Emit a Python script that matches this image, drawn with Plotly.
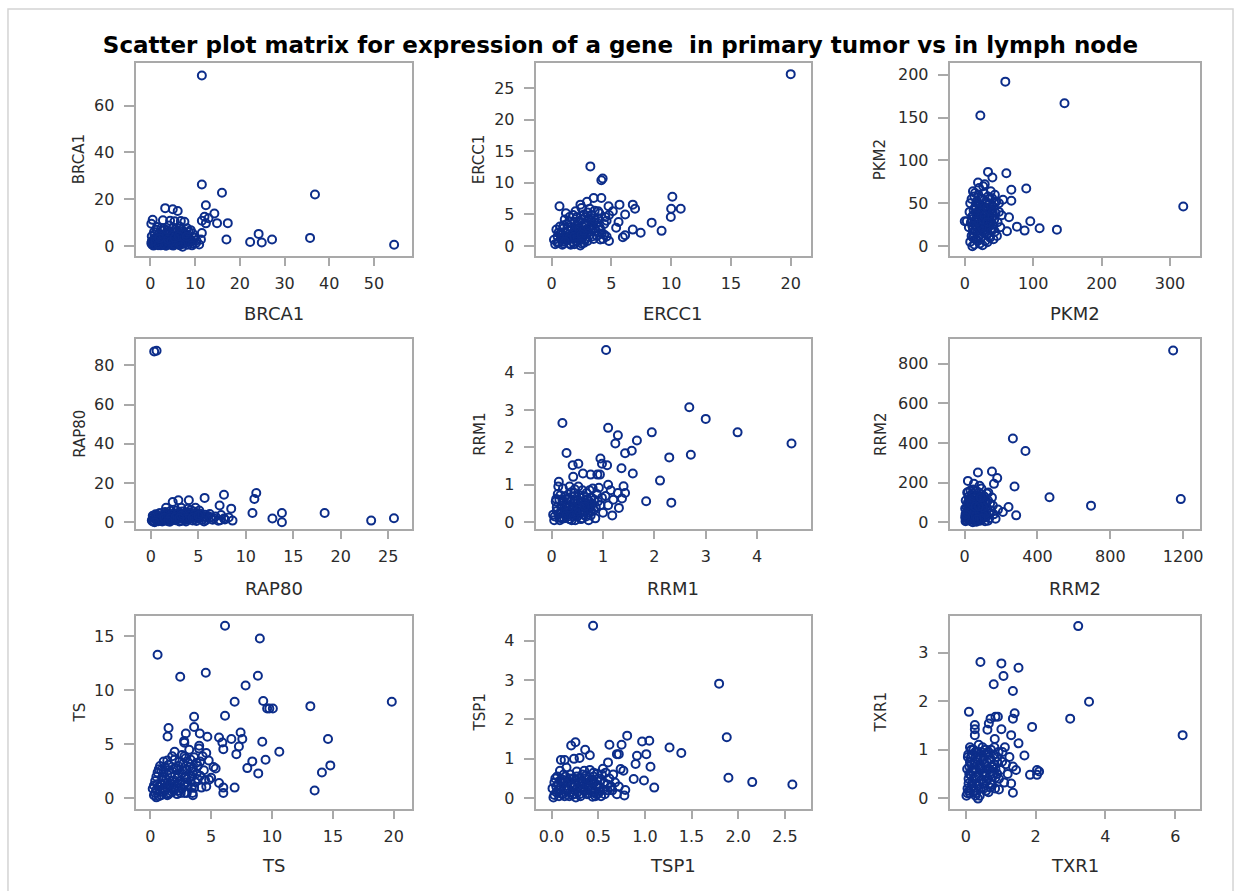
import plotly.graph_objects as go

# ---------------- data: (value in primary tumor, value in lymph node) ----------------
genes = ["BRCA1", "ERCC1", "PKM2", "RAP80", "RRM1", "RRM2", "TS", "TSP1", "TXR1"]

brca1_pts = [(11.5,72.9),(11.5,26.3),(16.0,22.8),(36.8,22.0),(12.4,17.4),(3.3,16.2),(5.0,15.7),(6.1,15.0),
             (14.3,13.9),(12.1,12.5),(13.0,11.9),(11.5,10.8),(12.4,9.7),(14.9,9.8),(17.3,9.8),(11.5,5.6),
             (17.0,2.8),(24.2,5.2),(22.3,1.7),(24.9,1.5),(27.2,2.8),(35.7,3.5),(54.5,0.6),(11.3,2.8),
             (10.9,0.7),(10.2,1.3),
             (0.5,11.2),(2.8,11.0),(4.4,10.8),(5.4,10.6),(6.8,10.7),(7.6,10.4),(0.2,9.5),(1.5,8.2),(3.0,7.5),
             (4.2,8.8),(5.6,7.2),(6.5,8.4),(8.2,7.6),(9.0,6.8),(0.8,6.0),(1.9,5.4),(2.6,6.5),(3.7,4.8),
             (4.9,5.9),(6.1,5.0),(7.2,6.2),(8.5,4.6),(9.4,5.5),(0.3,4.2),(1.2,3.6),(2.2,4.0),(3.1,3.2),
             (4.0,3.9),(5.0,3.0),(5.8,3.8),(6.7,3.3),(7.5,4.1),(8.8,3.0),(9.8,3.6),(0.6,2.5),(1.5,2.0),
             (2.4,2.8),(3.4,1.9),(4.4,2.4),(5.3,1.6),(6.2,2.2),(7.0,1.8),(7.9,2.6),(9.1,1.9),(10.3,2.4),
             (0.2,1.2),(1.0,0.8),(1.9,1.4),(2.9,0.9),(3.8,1.2),(4.7,0.5),(5.6,0.9),(6.5,0.4),(7.4,1.0),
             (8.3,0.6),(9.5,1.1),(0.7,0.2),(2.3,0.3),(3.5,0.1),(5.1,0.2),(7.2,-0.3),(1.4,1.8),(2.7,2.1),
             (4.1,1.5),(6.0,1.3),(8.0,1.6),(0.9,3.1),(3.3,2.6),(5.5,2.7),(7.7,3.0),
             (0.4,0.6),(1.1,1.9),(1.7,0.4),(2.1,2.4),(2.6,1.2),(3.0,3.6),(3.6,0.6),(4.0,2.0),(4.5,3.2),
             (4.9,1.1),(5.2,4.4),(5.7,2.0),(6.0,3.1),(6.4,1.0),(6.9,2.7),(7.3,4.6),(7.8,1.3),(8.4,3.5),
             (8.9,2.2),(9.3,0.3),(0.9,4.8),(1.6,2.9),(2.0,5.0),(2.9,4.4),(3.5,5.5),(4.3,6.1),(4.8,4.3),
             (5.9,6.4),(6.6,5.6),(7.0,7.0),(7.9,5.3),(8.6,6.0),(1.3,7.0),(2.4,7.6),(3.8,6.8),(5.1,7.8),
             (1.8,0.9),(3.2,0.4),(4.6,1.9),(6.8,0.8),(0.3,2.0),(2.0,3.3),(3.9,2.9),(5.4,3.5),(6.3,4.2),
             (8.1,4.0)]

ercc1_pts = [(20.0,27.2),(3.24,12.6),(4.16,10.4),(4.27,10.7),(0.66,6.3),(2.41,6.55),(2.96,7.0),(3.52,7.6),
             (4.16,7.6),(4.76,6.3),(5.68,6.55),(6.79,6.55),(6.98,5.9),(5.12,5.5),(6.15,5.0),(10.1,7.8),
             (10.0,5.9),(10.8,5.9),(9.97,4.6),(8.37,3.7),(9.2,2.4),(7.45,2.1),(6.79,2.6),(6.15,1.7),
             (5.96,1.4),(5.6,3.8),(5.4,2.9),(4.8,0.8),(4.07,1.05),(4.6,1.5),(3.9,5.5),(4.5,4.6),
             (0.3,0.3),(0.6,0.6),(0.9,0.2),(1.2,0.9),(1.5,0.4),(1.8,1.2),(2.1,0.7),(2.4,0.1),(0.5,1.5),
             (0.8,2.0),(1.1,1.6),(1.4,2.4),(1.7,1.9),(2.0,2.8),(2.3,2.2),(2.6,1.4),(2.9,2.6),(3.2,1.8),
             (3.5,1.1),(0.4,2.6),(0.7,3.1),(1.0,2.8),(1.3,3.5),(1.6,3.0),(1.9,3.8),(2.2,3.4),(2.5,4.2),
             (2.8,3.6),(3.1,4.4),(3.4,3.2),(3.7,2.4),(4.0,3.0),(1.1,4.2),(1.5,4.6),(1.8,4.9),(2.1,4.6),
             (2.7,5.0),(3.0,5.3),(3.3,4.9),(3.6,5.6),(3.9,4.4),(4.2,2.0),(4.4,3.5),(2.4,0.9),(2.7,0.5),
             (3.0,0.8),(3.3,2.6),(0.2,1.0),(1.3,1.3),(2.2,1.7),(2.9,1.2),(3.8,1.6),(4.3,1.1),(1.6,0.2),
             (0.9,1.1),(1.9,2.3),(2.6,3.0),(3.5,3.8),(4.6,4.0),(1.2,5.2),(2.0,5.5),(2.5,6.0),(3.2,5.9),
             (4.0,5.2),(4.8,4.9),
             (0.5,0.5),(0.8,1.3),(1.0,0.4),(1.2,2.1),(1.4,1.0),(1.6,1.6),(1.8,0.6),(2.0,2.0),(2.2,1.1),
             (2.4,2.6),(2.6,2.0),(2.8,1.0),(3.0,2.2),(3.2,3.0),(3.4,1.5),(0.7,1.9),(1.0,3.3),(1.3,2.7),
             (1.5,1.4),(1.7,2.6),(1.9,1.5),(2.1,3.1),(2.3,2.7),(2.5,1.8),(2.7,2.4),(2.9,3.2),(3.1,2.8),
             (3.3,4.0),(3.6,2.9),(3.8,3.7),(1.1,0.7),(1.9,0.3),(2.5,0.4),(0.6,2.2),(1.5,3.9),(2.3,3.8),
             (2.8,4.6),(3.6,4.1),(4.1,2.6),(4.4,1.8)]

pkm2_pts = [(59.3,192),(145.8,166.7),(22.8,152.4),(34.0,86.7),(60.8,85.1),(40.4,80.1),(19.4,74.3),
            (29.2,72.3),(68.1,65.8),(89.9,67.3),(55.9,54.2),(68.1,53),(0,29),(64.7,33.7),(76.3,22.8),
            (87.5,18.2),(95.8,29.0),(109.4,20.9),(134.7,19.3),(319.4,46.4),(61.7,17.4),(33,4.6),(11.2,0),
            (8,5),(10,12),(12,20),(9,28),(11,35),(13,42),(8,50),(10,55),(14,58),(16,8),(18,15),(15,25),
            (17,32),(19,40),(16,47),(18,52),(20,60),(22,3),(24,10),(21,18),(23,26),(25,33),(22,40),
            (24,46),(26,55),(28,62),(21,68),(30,6),(32,14),(29,22),(31,30),(33,38),(30,45),(32,50),
            (34,58),(27,70),(36,12),(38,20),(35,27),(37,35),(39,43),(36,49),(40,56),(38,64),(42,8),
            (44,17),(41,25),(43,31),(45,39),(42,46),(46,52),(48,28),(50,40),(52,22),(47,12),(14,2),
            (26,1),(6,22),(7,40),(12,64),(20,30),(28,38),(34,24),(44,60),(54,36),(3,29),(50,50),
            (12,10),(14,18),(16,30),(18,22),(20,12),(22,35),(24,28),(26,18),(28,45),(30,25),(32,32),
            (34,15),(36,40),(38,28),(40,33),(42,20),(13,36),(15,45),(17,52),(19,6),(21,48),(23,56),
            (25,40),(27,30),(29,15),(31,52),(33,45),(35,35),(37,56),(39,18),(41,40),(43,50),(11,24),
            (13,15),(17,38),(25,22),(29,35),(33,28),(37,10),(15,62)]

rap80_pts = [(0.35,87.1),(0.6,87.5),(5.66,12.4),(7.7,14.0),(11.1,14.9),(10.9,11.8),(7.24,8.5),(8.46,6.9),
             (10.7,4.7),(12.8,1.9),(13.8,4.7),(13.8,0.0),(18.3,4.7),(23.2,0.8),(25.6,2.0),(4.0,11.2),
             (2.9,11.2),(2.3,10.3),(1.6,7.3),(3.2,7.3),(3.9,6.9),(4.7,7.3),(5.8,1.0),(7.8,1.4),
             (0.2,0.3),(0.5,1.2),(0.8,0.5),(1.1,2.0),(1.4,0.8),(1.7,1.6),(2.0,0.2),(2.3,2.5),(2.6,1.0),
             (2.9,3.2),(3.2,0.6),(3.5,2.2),(3.8,1.4),(4.1,3.8),(4.4,0.9),(4.7,2.8),(5.0,1.7),(5.3,3.5),
             (5.6,0.4),(5.9,2.3),(6.2,4.2),(6.5,1.2),(6.8,2.9),(7.1,0.7),(7.4,3.6),(7.7,1.9),(0.3,2.8),
             (0.6,3.6),(0.9,4.5),(1.2,3.1),(1.5,5.2),(1.8,4.0),(2.1,5.8),(2.4,4.6),(2.7,6.0),(3.0,4.9),
             (3.3,5.5),(3.6,4.4),(3.9,5.0),(4.2,6.2),(4.5,5.4),(4.8,4.7),(5.1,5.9),(0.4,1.8),(0.7,2.3),
             (1.0,1.0),(1.3,1.5),(1.6,2.7),(1.9,3.3),(2.2,1.3),(2.5,3.9),(2.8,2.0),(3.1,1.8),(3.4,3.0),
             (3.7,0.3),(4.0,2.4),(4.6,1.5),(5.5,2.6),(6.0,3.2),(6.6,2.0),(7.3,1.0),(8.2,2.4),(8.6,0.8),
             (0.1,0.9),(0.2,3.3),
             (0.3,0.6),(0.6,2.0),(0.9,1.5),(1.2,0.4),(1.5,3.5),(1.8,2.2),(2.1,0.9),(2.4,3.0),(2.7,1.6),
             (3.0,0.4),(3.3,2.5),(3.6,1.1),(3.9,3.5),(4.2,1.9),(4.5,3.0),(4.8,0.6),(5.1,2.7),(5.4,1.2),
             (5.7,3.8),(6.3,2.5),(0.5,4.0),(1.0,4.6),(1.6,4.3),(2.2,4.0),(2.8,4.3),(3.4,4.0),(4.0,4.5),
             (4.6,4.0),(5.2,4.3),(0.8,3.0),(1.4,2.3),(2.0,1.9),(2.6,2.7),(3.2,3.4),(3.8,2.0),(4.4,2.2),
             (5.0,3.3),(0.4,0.0),(1.8,0.5),(3.0,2.0)]

rrm1_pts = [(1.06,4.60),(2.68,3.07),(3.00,2.76),(3.62,2.40),(4.67,2.10),(0.21,2.65),(1.10,2.52),(1.29,2.32),
            (1.24,2.10),(1.66,2.18),(1.95,2.40),(0.29,1.85),(1.43,1.84),(1.56,1.91),(2.29,1.73),(2.71,1.80),
            (0.95,1.70),(0.41,1.52),(0.52,1.56),(0.98,1.56),(1.08,1.52),(1.36,1.44),(1.58,1.30),(0.61,1.30),
            (0.76,1.27),(0.89,1.27),(0.94,1.27),(0.42,1.21),(2.11,1.11),(0.14,1.08),(1.10,1.00),(1.40,0.96),
            (1.84,0.56),(2.33,0.52),(1.18,0.18),(1.31,0.38),(1.29,0.78),(1.43,0.78),(1.37,0.63),
            (0.05,0.05),(0.1,0.3),(0.15,0.12),(0.2,0.45),(0.25,0.2),(0.3,0.6),(0.35,0.08),(0.4,0.35),
            (0.45,0.7),(0.5,0.15),(0.55,0.5),(0.6,0.85),(0.65,0.28),(0.7,0.62),(0.75,0.4),(0.8,0.9),
            (0.85,0.1),(0.9,0.55),(0.08,0.55),(0.12,0.75),(0.18,0.25),(0.22,0.9),(0.28,0.4),(0.32,0.15),
            (0.38,0.8),(0.42,0.52),(0.48,0.3),(0.52,0.95),(0.58,0.42),(0.62,0.2),(0.68,0.78),(0.72,0.05),
            (0.78,0.65),(0.82,0.32),(0.88,0.75),(0.95,0.45),(1.0,0.25),(1.05,0.7),(1.1,0.45),(0.03,0.2),
            (0.13,0.95),(0.26,0.68),(0.36,0.55),(0.46,0.05),(0.56,0.65),(0.66,0.5),(0.76,0.18),(0.92,0.92),
            (1.15,0.85),(1.2,0.6),(0.2,0.1),(0.3,0.3),(0.4,0.2),(0.5,0.4),(0.6,0.1),(0.7,0.35),(0.15,0.6),
            (0.35,0.95),(0.45,0.88),(0.55,0.25),
            (0.06,0.15),(0.1,0.4),(0.14,0.22),(0.16,0.05),(0.19,0.35),(0.23,0.55),(0.24,0.1),(0.27,0.3),
            (0.29,0.18),(0.31,0.45),(0.33,0.65),(0.37,0.25),(0.39,0.05),(0.41,0.42),(0.43,0.15),(0.47,0.58),
            (0.49,0.22),(0.51,0.6),(0.53,0.33),(0.57,0.08),(0.59,0.55),(0.61,0.3),(0.63,0.7),(0.67,0.15),
            (0.69,0.45),(0.71,0.25),(0.73,0.55),(0.77,0.3),(0.79,0.5),(0.83,0.6),(0.09,0.62),(0.17,0.72),
            (0.21,0.6),(0.34,0.38),(0.44,0.78),(0.54,0.72),(0.64,0.42),(0.74,0.85),(0.86,0.4),(0.98,0.65)]

rrm2_pts = [(1145,867),(265,423),(334,360),(73,251),(150,256),(179,223),(18,209),(51,194),(82,184),
            (161,194),(274,181),(18,152),(466,126),(694,84),(1187,117),(241,77),(283,35),(183,64),
            (210,52),(170,18),(128,8),
            (5,5),(10,20),(15,40),(20,60),(25,10),(30,30),(35,50),(40,80),(45,15),(50,45),(55,70),(60,100),
            (65,25),(70,55),(75,90),(80,120),(85,35),(90,65),(95,140),(100,20),(105,85),(110,50),(115,110),
            (120,30),(125,70),(130,150),(135,45),(140,95),(145,60),(150,125),(8,35),(12,75),(18,100),
            (22,130),(28,90),(32,160),(38,115),(42,145),(48,165),(52,105),(58,135),(62,160),(68,130),
            (72,10),(78,150),(82,75),(88,105),(92,170),(98,115),(102,60),(108,130),(112,5),(118,95),
            (122,145),(128,110),(3,70),(6,110),(14,150),(45,0),(65,3),(85,8),(25,120),(35,5),(55,30),
            (75,40),(95,45),(115,75),(135,20),(155,85),(160,40),
            (10,10),(15,25),(20,45),(25,30),(30,70),(35,20),(40,55),(45,35),(50,90),(55,15),(60,50),
            (65,75),(70,35),(75,110),(80,25),(85,60),(90,40),(95,85),(100,50),(105,30),(110,100),(115,45),
            (20,15),(30,50),(40,30),(50,65),(60,30),(70,95),(80,55),(90,20),(100,75),(12,50),(18,85),
            (28,110),(38,95),(48,120),(58,80),(68,15),(78,80),(88,125),(5,40),(3,25)]

ts_pts = [(6.14,15.94),(9.0,14.77),(0.6,13.26),(2.46,11.23),(4.56,11.6),(8.84,11.32),(7.83,10.43),
          (6.93,8.92),(9.28,9.0),(9.6,8.3),(9.78,8.3),(10.07,8.3),(13.15,8.52),(19.84,8.92),(6.14,7.63),
          (3.6,7.54),(3.6,6.6),(1.5,6.5),(1.42,5.72),(2.92,6.0),(4.07,6.0),(4.69,5.69),(2.78,5.3),
          (2.8,5.15),(4.02,4.86),(5.65,5.63),(5.92,5.17),(6.66,5.48),(7.42,6.09),(7.56,5.48),(7.28,4.8),
          (6.0,4.55),(9.2,5.23),(14.6,5.48),(7.07,4.09),(10.6,4.31),(8.38,3.42),(9.47,3.57),(7.97,2.8),
          (8.87,2.31),(14.79,3.05),(14.1,2.4),(13.5,0.74),(6.93,1.0),(6.0,1.0),(6.0,0.5),(5.37,2.77),
          (4.6,1.1),(4.83,1.72),(5.65,1.42),(3.47,0.5),
          (0.3,0.3),(0.5,0.8),(0.7,0.2),(0.9,1.3),(1.1,0.6),(1.3,1.8),(1.5,0.4),(1.7,2.3),(1.9,1.0),
          (2.1,2.8),(2.3,0.7),(2.5,1.6),(2.7,3.2),(2.9,2.0),(3.1,1.2),(3.3,3.6),(3.5,2.5),(3.7,1.5),
          (3.9,3.0),(4.1,2.1),(4.3,3.9),(4.5,1.7),(0.4,1.6),(0.6,2.4),(0.8,3.0),(1.0,2.0),(1.2,2.9),
          (1.4,3.5),(1.6,1.2),(1.8,3.9),(2.0,4.3),(2.2,1.9),(2.4,3.4),(2.6,4.0),(2.8,1.3),(3.0,2.7),
          (3.2,4.5),(3.4,1.0),(3.6,3.8),(4.0,4.6),(4.4,2.6),(4.8,3.5),(5.0,1.9),(0.2,0.9),(0.5,0.1),
          (1.0,0.9),(1.4,0.3),(1.8,0.6),(2.2,0.4),(2.6,0.9),(3.0,0.5),(3.5,0.3),(4.2,1.0),(0.9,2.6),
          (1.5,2.6),(2.3,2.3),(2.9,3.7),(3.8,2.3),(4.6,4.2),(5.2,2.9),(1.2,1.4),(2.0,1.5),(0.7,1.1),
          (0.4,0.5),(0.6,1.3),(0.8,0.6),(1.0,1.7),(1.2,0.8),(1.4,2.2),(1.6,0.5),(1.8,1.6),(2.0,0.8),
          (2.2,2.6),(2.4,1.4),(2.6,2.3),(2.8,0.5),(3.0,1.8),(3.2,2.9),(3.4,2.0),(3.6,1.0),(3.8,3.3),
          (0.5,2.0),(0.7,2.7),(0.9,0.3),(1.1,2.4),(1.3,1.1),(1.5,3.1),(1.7,1.3),(1.9,2.7),(2.1,1.2),
          (2.3,3.0),(2.5,0.5),(2.7,2.6),(2.9,1.5),(3.1,3.3),(3.3,1.6),(3.5,2.8),(3.9,1.8),(4.1,3.4),
          (0.3,1.2),(1.1,3.4),(2.0,3.6),(2.8,3.9)]

tsp1_pts = [(0.445,4.38),(1.795,2.91),(1.877,1.55),(1.895,0.52),(2.15,0.41),(2.58,0.35),(1.264,1.29),
            (1.39,1.15),(1.047,1.46),(0.97,1.44),(0.81,1.59),(0.75,1.36),(0.62,1.36),(0.915,1.08),
            (1.015,1.12),(0.70,1.12),(0.72,1.12),(0.90,0.87),(1.06,0.80),(0.605,0.91),(0.256,1.42),
            (0.21,1.34),(0.36,1.23),(0.41,1.09),(0.10,0.97),(0.14,0.97),(0.24,1.0),(0.30,1.02),
            (0.88,0.49),(0.99,0.45),(1.10,0.27),(0.78,0.07),(0.79,0.21),(0.74,0.74),(0.77,0.70),
            (0.44,0.04),(0.63,0.28),
            (0.02,0.02),(0.05,0.15),(0.08,0.05),(0.1,0.3),(0.12,0.1),(0.15,0.45),(0.18,0.2),(0.2,0.6),
            (0.22,0.08),(0.25,0.35),(0.28,0.15),(0.3,0.5),(0.32,0.25),(0.35,0.7),(0.38,0.1),(0.4,0.4),
            (0.42,0.2),(0.45,0.55),(0.48,0.3),(0.5,0.12),(0.52,0.45),(0.55,0.22),(0.58,0.65),(0.6,0.35),
            (0.03,0.4),(0.06,0.55),(0.09,0.7),(0.13,0.6),(0.16,0.78),(0.19,0.05),(0.24,0.5),(0.27,0.68),
            (0.31,0.05),(0.34,0.42),(0.37,0.58),(0.41,0.72),(0.44,0.38),(0.47,0.05),(0.51,0.28),
            (0.54,0.6),(0.57,0.1),(0.62,0.5),(0.65,0.2),(0.68,0.4),(0.72,0.3),(0.01,0.25),(0.14,0.22),
            (0.21,0.38),(0.26,0.02),(0.33,0.3),(0.39,0.25),(0.46,0.15),(0.53,0.05),(0.07,0.35),
            (0.11,0.48),(0.17,0.32),(0.23,0.28),(0.29,0.4),(0.36,0.18),(0.43,0.48),(0.49,0.62),
            (0.03,0.08),(0.05,0.3),(0.08,0.2),(0.1,0.12),(0.12,0.38),(0.14,0.05),(0.16,0.25),(0.18,0.42),
            (0.2,0.15),(0.22,0.32),(0.24,0.1),(0.26,0.45),(0.28,0.28),(0.3,0.1),(0.32,0.38),(0.34,0.2),
            (0.36,0.5),(0.38,0.32),(0.4,0.12),(0.42,0.45),(0.44,0.25),(0.46,0.4),(0.48,0.1),(0.5,0.32),
            (0.52,0.18),(0.56,0.4),(0.6,0.2),(0.64,0.3),(0.04,0.5),(0.09,0.45),(0.15,0.55),(0.21,0.5),
            (0.27,0.55),(0.33,0.6),(0.39,0.48),(0.45,0.65),(0.5,0.5),(0.55,0.75),(0.66,0.6),(0.7,0.1)]

txr1_pts = [(3.22,3.55),(3.53,1.99),(2.99,1.64),(6.21,1.30),(0.42,2.81),(1.02,2.78),(1.51,2.69),
            (1.08,2.52),(0.80,2.35),(1.35,2.21),(0.09,1.78),(1.40,1.75),(1.35,1.64),(0.71,1.64),
            (0.85,1.68),(0.92,1.68),(0.66,1.54),(1.90,1.47),(1.02,1.42),(0.26,1.51),(0.26,1.42),
            (0.62,1.41),(1.30,1.30),(0.26,1.30),(0.83,1.22),(1.51,1.13),(1.68,0.88),(1.84,0.48),
            (2.04,0.48),(2.04,0.58),(2.10,0.55),(1.35,0.11),(1.44,0.58),(0.35,-0.01),
            (0.02,0.05),(0.05,0.2),(0.08,0.4),(0.1,0.65),(0.12,0.1),(0.15,0.85),(0.18,0.3),(0.2,0.55),
            (0.22,1.0),(0.25,0.15),(0.28,0.75),(0.3,0.45),(0.32,0.95),(0.35,0.25),(0.38,0.62),(0.4,0.05),
            (0.42,0.82),(0.45,0.38),(0.48,1.05),(0.5,0.52),(0.52,0.2),(0.55,0.7),(0.58,0.92),(0.6,0.35),
            (0.62,0.6),(0.65,0.12),(0.68,0.8),(0.7,0.48),(0.72,1.0),(0.75,0.28),(0.78,0.65),(0.8,0.9),
            (0.85,0.42),(0.9,0.75),(0.95,0.18),(1.0,0.58),(1.05,0.95),(1.1,0.32),(1.15,0.7),(1.2,0.5),
            (1.25,0.85),(1.3,0.3),(1.35,0.65),(0.04,0.6),(0.06,0.85),(0.09,0.15),(0.14,0.48),(0.16,0.7),
            (0.21,0.25),(0.26,0.58),(0.34,0.8),(0.44,0.62),(0.54,0.45),(0.64,0.9),(0.74,0.55),(0.84,0.2),
            (0.94,0.95),(1.04,0.75),(0.12,1.05),(0.3,0.1),(0.5,0.85),(0.7,0.22),(0.9,0.5),(1.12,1.05),
            (0.05,0.1),(0.08,0.3),(0.1,0.5),(0.12,0.75),(0.15,0.2),(0.18,0.6),(0.2,0.9),(0.22,0.4),
            (0.25,0.7),(0.28,0.05),(0.3,0.55),(0.32,0.3),(0.35,0.85),(0.38,0.45),(0.4,0.7),(0.42,0.2),
            (0.45,0.95),(0.48,0.6),(0.5,0.3),(0.52,0.8),(0.55,0.5),(0.58,0.15),(0.6,0.75),(0.62,0.4),
            (0.65,0.95),(0.68,0.6),(0.7,0.3),(0.72,0.8),(0.75,0.65),(0.78,0.45),(0.8,0.7),(0.85,0.6),
            (0.9,0.85),(0.95,0.4),(0.07,0.9),(0.16,1.0),(0.27,0.95),(0.37,1.1),(0.57,1.0),(0.82,1.05)]

all_pts = [brca1_pts, ercc1_pts, pkm2_pts, rap80_pts, rrm1_pts, rrm2_pts, ts_pts, tsp1_pts, txr1_pts]

# axis ranges and ticks per panel
x_ranges = [[-3.3, 58.5], [-1.33, 21.7], [-22, 344], [-1.6, 27.5], [-0.31, 5.05], [-82, 1293],
            [-1.2, 21.5], [-0.17, 2.78], [-0.46, 6.71]]
y_ranges = [[-4.3, 78.3], [-1.6, 29.0], [-11.6, 214], [-3.6, 93.6], [-0.19, 4.9], [-35, 926],
            [-1.0, 16.85], [-0.28, 4.63], [-0.23, 3.76]]
x_ticks = [[0, 10, 20, 30, 40, 50], [0, 5, 10, 15, 20], [0, 100, 200, 300], [0, 5, 10, 15, 20, 25],
           [0, 1, 2, 3, 4], [0, 400, 800, 1200], [0, 5, 10, 15, 20], [0, 0.5, 1.0, 1.5, 2.0, 2.5],
           [0, 2, 4, 6]]
x_ticktext = [None, None, None, None, None, None, None, ["0.0", "0.5", "1.0", "1.5", "2.0", "2.5"], None]
y_ticks = [[0, 20, 40, 60], [0, 5, 10, 15, 20, 25], [0, 50, 100, 150, 200], [0, 20, 40, 60, 80],
           [0, 1, 2, 3, 4], [0, 200, 400, 600, 800], [0, 5, 10, 15], [0, 1, 2, 3, 4], [0, 1, 2, 3]]

title_text = "Scatter plot matrix for expression of a gene  in primary tumor vs in lymph node"

# ---------------- layout geometry (pixels) ----------------
W, H = 1243, 891
col_px = [(136, 413), (537, 813), (952, 1203)]
row_px = [(63, 257), (340, 531), (618, 812)]
ytitle_x = [80, 481, 883]
xtitle_y = [315, 590, 868]

MARK = "#0c2d8a"
BOX = "#a9a9a9"
TXT = "#2b2b2b"
FONT = "DejaVu Sans"

fig = go.Figure()
annotations = []
for i, pts in enumerate(all_pts):
    r, c = divmod(i, 3)
    n = i + 1
    xa = "x" if n == 1 else f"x{n}"
    ya = "y" if n == 1 else f"y{n}"
    xs = [p[0] for p in pts]
    ys = [p[1] for p in pts]
    fig.add_trace(go.Scatter(
        x=xs, y=ys, mode="markers", xaxis=xa, yaxis=ya, showlegend=False,
        marker=dict(symbol="circle-open", size=8, color=MARK, line=dict(width=2, color=MARK)),
        cliponaxis=False, hoverinfo="x+y"))
    x0, x1 = col_px[c]
    yt, yb = row_px[r]
    axkey = "xaxis" if n == 1 else f"xaxis{n}"
    aykey = "yaxis" if n == 1 else f"yaxis{n}"
    common = dict(showline=True, mirror=True, linecolor=BOX, linewidth=2, showgrid=False,
                  zeroline=False, ticks="outside", tickcolor=BOX, tickwidth=1.5,
                  tickfont=dict(family=FONT, size=16, color=TXT), fixedrange=True)
    xdict = dict(domain=[x0 / W, x1 / W], range=x_ranges[i], anchor=ya, tickvals=x_ticks[i],
                 ticklen=8, ticklabelstandoff=4, **common)
    if x_ticktext[i] is not None:
        xdict["ticktext"] = x_ticktext[i]
    ydict = dict(domain=[1 - yb / H, 1 - yt / H], range=y_ranges[i], anchor=xa, tickvals=y_ticks[i],
                 ticklen=10, ticklabelstandoff=6, **common)
    fig.layout[axkey] = xdict
    fig.layout[aykey] = ydict
    # axis titles
    annotations.append(dict(text=genes[i], x=(x0 + x1) / 2 / W, y=1 - xtitle_y[r] / H,
                            xref="paper", yref="paper", showarrow=False, xanchor="center",
                            yanchor="middle", font=dict(family=FONT, size=18, color=TXT)))
    annotations.append(dict(text=genes[i], x=ytitle_x[c] / W, y=1 - (yt + yb) / 2 / H,
                            xref="paper", yref="paper", showarrow=False, textangle=-90,
                            xanchor="center", yanchor="middle",
                            font=dict(family=FONT, size=15, color=TXT)))

fig.update_layout(
    width=W, height=H, autosize=False,
    margin=dict(l=0, r=0, t=0, b=0),
    paper_bgcolor="white", plot_bgcolor="white",
    title=dict(text=f"<b>{title_text}</b>", x=622 / W, xanchor="center", xref="paper",
               y=1 - 45 / H, yanchor="middle", yref="paper",
               font=dict(family="DejaVu Sans", size=23, color="#000000")),
    annotations=annotations,
    shapes=[dict(type="rect", xref="paper", yref="paper", x0=8 / W, x1=1236 / W,
                 y0=-0.02, y1=1 - 9 / H, line=dict(color="#d4d4d4", width=1.5), layer="below")],
)

fig.write_html("out.html")
